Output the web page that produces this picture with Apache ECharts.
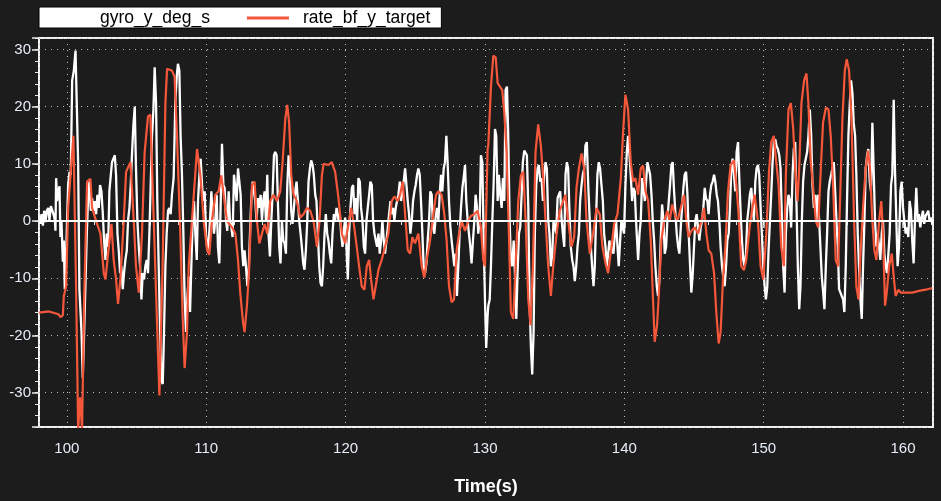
<!DOCTYPE html>
<html><head><meta charset="utf-8">
<script src="https://cdn.jsdelivr.net/npm/echarts@6/dist/echarts.min.js"></script>
<style>html,body{margin:0;padding:0;background:#1c1c1c;}#c{width:941px;height:501px;}</style>
</head><body><div id="c"></div>
<script>
const seriesNames = ['gyro_y_deg_s', 'rate_bf_y_target'];
const xTitle = 'Time(s)';
const xRange = [98, 162.15];
const yRange = [-36, 32];

const gyro_y_deg_s = [
[98.00,0.9],[98.09,-0.5],[98.18,1.2],[98.28,-0.8],[98.37,1.8],[98.47,-0.2],[98.56,1.8],[98.66,2.3],[98.75,0.1],[98.85,2.6],[98.95,2.9],[99.04,1.2],[99.14,0.1],[99.18,-1.7],[99.23,7.5],[99.30,3.5],[99.38,5.2],[99.47,6.1],[99.54,-2.8],[99.61,0.1],[99.71,-7.1],[99.78,-3.4],[99.85,-11.9],[99.90,-10.2],[100.00,-1.1],[100.09,6.3],[100.19,8.6],[100.28,8.1],[100.38,24.6],[100.50,26.3],[100.62,29.8],[100.71,20.6],[100.81,9.8],[100.90,-11.9],[101.05,-19.4],[101.14,-27.4],[101.24,-19.4],[101.33,-11.4],[101.43,-2.2],[101.53,4.6],[101.62,6.9],[101.72,1.8],[101.81,4.0],[101.91,1.8],[102.00,3.5],[102.10,1.2],[102.19,4.6],[102.29,2.3],[102.38,6.3],[102.48,5.2],[102.58,1.2],[102.67,-3.4],[102.77,-6.8],[102.86,-2.2],[102.96,-4.5],[103.05,5.2],[103.15,8.0],[103.24,10.3],[103.34,10.9],[103.44,11.5],[103.53,8.0],[103.63,-2.2],[103.72,-5.1],[103.82,-9.1],[103.91,-7.9],[104.01,-11.9],[104.10,-9.1],[104.20,-6.8],[104.30,-5.1],[104.39,0.1],[104.49,2.3],[104.58,6.3],[104.68,12.0],[104.77,16.6],[104.87,20.0],[104.96,9.2],[105.06,0.1],[105.16,-4.5],[105.25,-7.9],[105.35,-13.7],[105.44,-9.1],[105.54,-10.2],[105.63,-7.9],[105.73,-6.8],[105.82,-9.1],[105.92,-2.2],[106.01,5.8],[106.11,14.9],[106.21,19.5],[106.30,26.9],[106.40,20.6],[106.49,3.5],[106.59,-7.9],[106.68,-18.2],[106.78,-27.9],[106.88,-28.5],[106.97,-19.4],[107.07,-7.9],[107.16,-2.2],[107.26,1.8],[107.35,2.3],[107.45,1.2],[107.54,4.6],[107.66,7.5],[107.78,20.6],[107.88,25.2],[107.97,27.5],[108.07,26.3],[108.16,14.9],[108.26,8.0],[108.36,-2.2],[108.45,-13.7],[108.55,-19.4],[108.64,-13.7],
[108.74,-9.7],[108.84,-15.9],[108.93,-7.9],[109.03,0.1],[109.12,3.5],[109.22,-2.2],[109.32,-6.8],[109.41,3.5],[109.51,8.1],[109.60,10.9],[109.70,6.3],[109.79,3.5],[109.89,5.2],[109.98,-2.2],[110.08,-5.1],[110.18,-3.4],[110.27,0.1],[110.37,5.2],[110.46,0.6],[110.56,-2.2],[110.65,0.1],[110.75,4.6],[110.84,-4.5],[110.94,-7.4],[111.03,2.3],[111.13,13.5],[111.23,6.3],[111.32,5.8],[111.42,0.1],[111.51,-1.7],[111.61,5.2],[111.70,0.1],[111.80,-1.1],[111.89,-2.8],[111.99,8.1],[112.09,5.8],[112.18,3.5],[112.28,9.2],[112.37,9.5],[112.47,4.6],[112.56,-4.5],[112.66,-7.9],[112.75,-5.1],[112.85,-7.9],[112.95,-11.4],[113.04,-9.1],[113.14,-2.2],[113.23,3.5],[113.33,6.9],[113.42,5.2],[113.52,3.5],[113.61,0.1],[113.71,4.0],[113.81,2.3],[113.90,4.6],[114.00,0.1],[114.09,3.5],[114.19,5.2],[114.28,0.1],[114.38,8.1],[114.47,-2.2],[114.57,-6.2],[114.67,0.1],[114.76,4.6],[114.86,11.5],[114.95,12.1],[115.05,11.5],[115.14,3.5],[115.24,-4.5],[115.33,-7.4],[115.43,0.1],[115.53,-3.4],[115.62,-3.9],[115.72,-5.7],[115.81,5.8],[115.91,11.5],[116.00,9.2],[116.10,1.8],[116.19,-0.5],[116.29,2.3],[116.39,5.2],[116.48,6.9],[116.58,3.5],[116.67,0.1],[116.77,-2.2],[116.86,-4.5],[116.96,-7.4],[117.05,-8.5],[117.15,-5.1],[117.25,0.1],[117.34,6.9],[117.44,9.2],[117.53,10.6],[117.63,9.8],[117.72,8.1],[117.82,4.6],[117.91,3.5],[118.01,-2.2],[118.11,-7.9],[118.20,-10.8],[118.30,-11.4],[118.39,-7.9],[118.49,-2.2],[118.58,1.2],[118.68,-2.2],[118.77,-3.4],[118.87,-5.7],[118.97,-7.4],[119.06,-2.2],[119.16,1.2],[119.25,0.1],[119.35,2.3],[119.44,1.2],
[119.49,0.1],[119.59,1.2],[119.68,-2.2],[119.78,-4.5],[119.87,-1.7],[119.97,0.6],[120.06,-4.5],[120.16,-10.2],[120.25,-2.2],[120.35,2.3],[120.45,5.8],[120.54,6.3],[120.64,1.2],[120.73,4.0],[120.83,0.1],[120.92,7.5],[121.02,6.9],[121.11,2.3],[121.21,0.1],[121.31,-4.5],[121.40,-5.7],[121.50,0.1],[121.59,2.3],[121.69,4.6],[121.78,6.9],[121.88,6.3],[121.97,0.1],[122.07,-2.2],[122.17,-3.4],[122.26,-4.5],[122.36,-2.2],[122.45,-5.7],[122.55,-3.4],[122.64,0.1],[122.74,-3.4],[122.83,-5.7],[122.93,-3.4],[123.03,-1.1],[123.12,1.2],[123.22,3.5],[123.31,1.2],[123.41,2.3],[123.50,0.1],[123.60,2.3],[123.69,3.5],[123.79,4.6],[123.89,6.9],[123.98,3.5],[124.08,5.2],[124.17,6.9],[124.27,9.2],[124.36,9.5],[124.46,3.5],[124.55,1.2],[124.65,-2.2],[124.75,0.1],[124.84,3.5],[124.94,5.2],[125.03,6.3],[125.13,8.1],[125.22,9.2],[125.32,8.1],[125.41,3.5],[125.51,-2.2],[125.60,-7.9],[125.70,-9.1],[125.80,-7.4],[125.89,-3.4],[125.99,0.1],[126.08,5.2],[126.18,4.6],[126.27,-1.1],[126.37,-2.2],[126.46,0.6],[126.56,2.3],[126.66,0.1],[126.75,4.6],[126.85,8.1],[126.94,5.2],[127.04,9.2],[127.13,10.3],[127.23,14.9],[127.32,10.3],[127.42,3.5],[127.52,-1.1],[127.61,-3.4],[127.71,-5.7],[127.80,-7.9],[127.90,-5.7],[127.99,-13.1],[128.09,-7.9],[128.18,-2.2],[128.28,2.3],[128.38,5.8],[128.47,7.5],[128.57,9.8],[128.66,3.5],[128.76,0.1],[128.85,-2.2],[128.95,-4.5],[129.04,-7.4],[129.14,-3.4],[129.24,0.1],[129.33,4.6],[129.43,2.3],[129.52,-2.2],[129.62,0.1],[129.71,11.5],[129.81,10.3],[129.90,-2.2],[130.00,-13.7],[130.09,-22.2],[130.19,-16.5],
[130.24,-14.8],[130.34,-13.7],[130.43,-7.9],[130.53,0.1],[130.62,6.3],[130.72,16.1],[130.81,14.9],[130.91,3.5],[131.00,8.1],[131.10,4.6],[131.20,2.3],[131.29,7.5],[131.39,3.5],[131.48,22.9],[131.58,23.5],[131.67,14.9],[131.77,0.1],[131.86,-6.8],[131.96,-7.9],[132.06,-3.4],[132.15,-9.1],[132.25,-17.1],[132.34,-9.1],[132.44,-2.2],[132.53,-1.1],[132.63,4.6],[132.72,10.3],[132.82,12.3],[132.92,12.1],[133.01,11.5],[133.11,2.3],[133.20,-13.7],[133.30,-22.2],[133.39,-26.8],[133.49,-19.4],[133.58,-2.2],[133.68,6.3],[133.78,9.2],[133.87,9.8],[133.97,6.9],[134.06,7.5],[134.16,3.5],[134.25,8.1],[134.35,10.3],[134.44,9.2],[134.54,0.1],[134.63,-2.2],[134.73,-7.9],[134.83,-5.7],[134.92,0.1],[135.02,-1.1],[135.11,-2.2],[135.21,4.0],[135.30,4.6],[135.40,5.2],[135.49,0.6],[135.59,-2.2],[135.69,-4.5],[135.78,8.1],[135.88,10.3],[135.97,9.2],[136.07,1.2],[136.16,-4.5],[136.26,-6.8],[136.35,-7.9],[136.45,-10.5],[136.55,-7.9],[136.64,-4.5],[136.74,-2.2],[136.83,3.5],[136.93,6.3],[137.02,8.1],[137.12,9.2],[137.21,13.2],[137.31,13.8],[137.41,6.3],[137.50,1.2],[137.60,-4.5],[137.69,-7.9],[137.79,-11.4],[137.88,-7.9],[137.98,1.2],[138.07,8.1],[138.17,10.3],[138.26,9.2],[138.36,6.3],[138.46,3.5],[138.55,-2.2],[138.65,-4.5],[138.74,-7.9],[138.84,-5.7],[138.93,-3.4],[139.03,-5.1],[139.12,-4.5],[139.22,-5.7],[139.32,-2.2],[139.41,0.1],[139.51,-4.5],[139.60,-7.9],[139.70,-3.4],[139.79,0.1],[139.89,-1.1],[139.98,-2.2],[140.08,6.3],[140.18,12.1],[140.27,14.9],[140.37,11.5],[140.46,8.1],[140.56,3.5],[140.65,5.8],[140.75,5.2],[140.84,0.1],[140.94,-4.5],
[140.99,-6.8],[141.09,-2.2],[141.18,0.1],[141.28,7.5],[141.37,5.8],[141.47,3.5],[141.56,6.9],[141.66,10.3],[141.75,10.6],[141.85,8.1],[141.95,4.6],[142.04,0.1],[142.14,-3.4],[142.23,-7.9],[142.33,-11.4],[142.42,-13.1],[142.52,-10.2],[142.61,-3.4],[142.71,2.9],[142.81,0.1],[142.90,-5.7],[143.00,-4.5],[143.09,0.1],[143.19,3.5],[143.28,6.3],[143.38,9.8],[143.47,10.3],[143.57,5.2],[143.67,1.2],[143.76,-2.2],[143.86,-4.5],[143.95,-5.7],[144.05,-1.1],[144.14,2.3],[144.24,5.8],[144.33,8.1],[144.43,8.6],[144.53,4.6],[144.62,-2.2],[144.72,-7.9],[144.81,-12.5],[144.91,-9.1],[145.00,-4.5],[145.10,0.1],[145.19,1.2],[145.29,-1.1],[145.38,-3.4],[145.48,-1.1],[145.58,0.1],[145.67,2.3],[145.77,5.8],[145.86,4.0],[145.96,3.5],[146.05,1.2],[146.15,4.6],[146.24,6.3],[146.34,6.9],[146.44,8.1],[146.53,6.9],[146.63,4.6],[146.72,3.5],[146.82,0.1],[146.91,-4.5],[147.01,-7.9],[147.10,-9.7],[147.20,-11.4],[147.30,-7.9],[147.39,-3.4],[147.49,-2.2],[147.58,2.3],[147.68,9.2],[147.77,10.9],[147.87,8.1],[147.96,5.2],[148.06,12.1],[148.16,13.8],[148.25,7.5],[148.35,1.2],[148.44,-3.4],[148.54,-6.8],[148.63,-7.9],[148.73,-5.7],[148.82,0.1],[148.92,2.3],[149.01,4.6],[149.11,5.8],[149.21,2.3],[149.30,0.1],[149.40,6.9],[149.49,9.2],[149.59,9.8],[149.68,8.1],[149.78,2.3],[149.87,-2.2],[149.97,-7.9],[150.07,-11.4],[150.16,-13.7],[150.26,-11.4],[150.35,-5.1],[150.45,0.1],[150.54,4.6],[150.64,10.3],[150.73,13.8],[150.83,14.3],[150.93,13.1],[151.02,12.6],[151.12,11.5],[151.21,9.2],[151.31,0.1],[151.40,-7.9],[151.50,-12.5],
[151.59,-2.2],[151.69,2.3],[151.78,4.6],[151.88,3.5],[151.97,-1.1],[152.07,8.1],[152.16,12.6],[152.26,13.8],[152.35,3.5],[152.45,-7.9],[152.55,-15.4],[152.64,-11.4],[152.74,0.1],[152.83,6.9],[152.93,9.8],[153.02,10.9],[153.12,12.1],[153.21,14.9],[153.31,19.5],[153.41,14.9],[153.50,6.3],[153.60,2.3],[153.69,4.6],[153.79,0.1],[153.88,4.6],[153.98,0.1],[154.07,-4.5],[154.17,-9.7],[154.27,-12.5],[154.36,-15.4],[154.46,-7.9],[154.55,-2.2],[154.65,5.2],[154.74,6.9],[154.84,8.1],[154.93,9.2],[155.03,10.3],[155.13,5.2],[155.22,0.1],[155.32,-4.5],[155.41,-11.9],[155.51,-12.5],[155.60,-13.1],[155.70,-13.7],[155.79,-15.9],[155.89,-7.9],[155.98,3.5],[156.08,14.9],[156.18,20.6],[156.27,24.6],[156.37,22.3],[156.46,17.2],[156.56,14.9],[156.65,8.1],[156.75,-2.2],[156.84,-7.9],[156.94,-13.7],[157.04,-17.1],[157.13,-7.9],[157.23,0.1],[157.32,9.2],[157.42,11.5],[157.51,12.6],[157.61,6.9],[157.70,5.2],[157.80,17.2],[157.90,8.1],[157.99,0.1],[158.09,-4.5],[158.18,-2.2],[158.28,-4.5],[158.37,-6.8],[158.47,-2.2],[158.56,0.1],[158.66,-5.7],[158.75,-7.9],[158.85,-9.1],[158.95,-5.7],[159.04,-2.2],[159.14,6.3],[159.23,8.1],[159.33,21.2],[159.42,9.2],[159.52,0.1],[159.61,-7.9],[159.71,-4.5],[159.81,5.2],[159.90,6.9],[160.00,2.3],[160.09,0.1],[160.19,-2.2],[160.28,-1.1],[160.38,-2.8],[160.47,3.5],[160.57,1.8],[160.66,-3.4],[160.76,-7.4],[160.86,0.6],[160.95,5.8],[161.05,0.1],[161.14,1.2],[161.24,-1.1],[161.33,0.6],[161.43,1.8],[161.52,-0.5],[161.62,0.9],[161.71,0.6],[161.81,1.8],[161.90,0.1],[162.00,0.6],[162.10,-0.5]
];

const rate_bf_y_target = [
[98.00,-16.0],[98.71,-15.8],[99.40,-16.3],[99.54,-16.8],[99.71,-16.5],[99.78,-13.1],[99.95,-11.4],[100.09,2.3],[100.19,2.6],[100.47,14.9],[100.66,-11.4],[100.81,-36.5],[100.95,-30.8],[101.09,-36.5],[101.24,-13.7],[101.45,6.9],[101.69,7.4],[101.81,2.3],[102.10,0.0],[102.41,-2.2],[102.65,-9.1],[102.77,-10.2],[103.01,-4.5],[103.20,-0.5],[103.36,-6.8],[103.53,-10.2],[103.67,-14.5],[103.84,-10.2],[104.08,0.0],[104.25,8.6],[104.56,10.3],[104.80,0.0],[104.96,-7.9],[105.16,-12.5],[105.39,-2.2],[105.58,12.0],[105.82,18.3],[105.99,18.6],[106.64,-30.5],[106.87,-7.9],[107.07,20.6],[107.19,26.6],[107.54,26.3],[107.73,25.2],[107.90,14.9],[108.14,-2.2],[108.31,-17.0],[108.45,-25.7],[108.62,-19.4],[108.74,-8.0],
[109.34,12.6],[109.58,8.0],[109.82,0.0],[110.06,-5.1],[110.22,-5.9],[110.41,0.0],[110.65,4.6],[110.89,5.2],[111.08,8.0],[111.25,4.6],[111.49,0.0],[111.85,-1.1],[112.09,-2.2],[112.28,-6.8],[112.44,-12.5],[112.64,-17.7],[112.75,-19.4],[112.92,-14.8],[113.09,-7.9],[113.28,6.3],[113.47,6.9],[113.64,0.0],[113.81,-3.9],[114.00,-2.2],[114.19,-0.5],[114.38,-2.2],[114.59,3.5],[114.83,4.6],[115.07,3.5],[115.31,5.2],[115.48,10.3],[115.67,17.8],[115.81,20.3],[115.95,17.2],[116.10,8.0],[116.27,4.6],[116.50,3.5],[116.74,0.6],[116.98,1.2],[117.22,2.3],[117.46,1.8],[117.70,0.0],[117.94,-4.5],[118.13,0.0],[118.30,8.0],[118.42,10.0],[118.77,9.8],[119.01,10.3],[119.25,8.6],
[119.49,4.0],[119.73,-2.2],[119.97,-3.9],[120.21,-0.5],[120.40,2.3],[120.56,0.0],[120.80,-4.5],[120.97,-7.9],[121.16,-11.4],[121.35,-12.0],[121.52,-7.9],[121.69,-6.8],[121.83,-10.2],[122.00,-13.7],[122.16,-11.4],[122.36,-8.5],[122.59,-6.8],[122.83,-4.5],[123.07,-2.2],[123.31,3.5],[123.50,4.3],[123.74,3.5],[123.91,4.6],[124.10,6.9],[124.27,1.2],[124.46,-5.1],[124.63,-5.7],[124.79,-2.8],[124.98,-3.9],[125.22,-2.2],[125.46,-7.9],[125.65,-9.9],[125.82,-6.8],[126.06,-3.4],[126.30,1.2],[126.49,4.6],[126.66,5.2],[126.89,4.6],[127.08,1.2],[127.25,-3.4],[127.42,-11.4],[127.61,-14.2],[127.78,-13.7],[127.97,-5.1],[128.14,-2.2],[128.33,0.0],[128.57,-1.7],[128.80,0.0],[128.99,0.9],[129.23,1.2],[129.47,1.8],[129.71,-1.1],[129.88,-6.8],[130.00,-7.9],[130.19,12.6],
[130.24,13.2],[130.43,23.5],[130.60,28.9],[130.77,28.6],[130.91,24.1],[131.08,23.5],[131.24,22.9],[131.39,18.9],[131.55,12.1],[131.72,-2.2],[131.86,-15.9],[132.03,-17.1],[132.20,-7.9],[132.39,3.5],[132.58,8.0],[132.75,8.6],[132.91,0.6],[133.11,-13.7],[133.27,-18.2],[133.44,-7.9],[133.63,12.1],[133.82,16.9],[134.01,13.2],[134.18,7.5],[134.35,0.0],[134.54,-7.9],[134.73,-13.1],[134.90,-7.9],[135.14,-2.2],[135.37,1.8],[135.61,3.5],[135.78,4.6],[135.97,0.0],[136.21,-4.5],[136.40,-2.8],[136.57,5.8],[136.74,9.2],[136.93,11.8],[137.12,9.2],[137.29,0.0],[137.52,-5.7],[137.76,-2.2],[138.00,2.3],[138.24,1.2],[138.43,-4.5],[138.65,-7.4],[138.84,-9.1],[139.08,-4.5],[139.27,-0.5],[139.51,1.2],[139.75,7.5],[139.91,15.5],[140.08,22.1],[140.27,19.5],[140.46,10.3],[140.63,6.9],[140.80,7.5],
[140.99,4.6],[141.18,9.2],[141.35,9.7],[141.52,5.2],[141.71,3.5],[141.90,-3.4],[142.06,-13.7],[142.18,-21.1],[142.35,-18.2],[142.47,-13.1],[142.66,-3.4],[142.85,0.0],[143.09,1.8],[143.26,0.0],[143.43,2.9],[143.62,1.2],[143.81,0.0],[144.05,2.3],[144.29,4.6],[144.45,0.0],[144.62,-2.8],[144.81,-1.7],[145.05,-1.1],[145.29,-2.2],[145.53,0.0],[145.72,2.3],[145.89,-2.2],[146.05,-5.1],[146.24,-5.7],[146.44,-9.1],[146.60,-15.9],[146.77,-21.4],[146.91,-19.4],[147.08,-10.2],[147.25,-4.5],[147.44,5.2],[147.63,9.8],[147.87,10.6],[148.04,6.3],[148.20,1.2],[148.39,-7.9],[148.58,-8.6],[148.75,-6.8],[148.99,-1.1],[149.16,1.8],[149.35,4.6],[149.59,0.0],[149.78,-7.9],[149.97,-10.2],[150.19,-2.2],[150.38,8.6],[150.54,13.8],[150.73,14.9],[150.90,10.3],[151.07,6.3],[151.26,-4.5],[151.45,-7.9],
[151.59,8.0],[151.78,19.5],[151.95,20.6],[152.12,16.1],[152.26,9.2],[152.43,3.5],[152.55,9.2],[152.71,20.6],[152.90,24.6],[153.07,25.8],[153.21,20.6],[153.38,10.3],[153.55,5.8],[153.74,0.0],[153.91,-1.1],[154.10,9.2],[154.26,17.2],[154.46,19.8],[154.65,19.5],[154.81,14.9],[154.98,6.3],[155.17,-6.8],[155.34,-7.9],[155.48,3.5],[155.65,17.8],[155.82,26.3],[155.96,28.3],[156.13,26.3],[156.30,17.8],[156.49,0.0],[156.65,-11.4],[156.80,-13.7],[156.96,-5.1],[157.13,2.3],[157.32,9.2],[157.49,12.3],[157.63,9.2],[157.80,0.0],[157.94,-5.1],[158.09,-6.8],[158.28,0.0],[158.44,3.5],[158.56,-2.2],[158.71,-14.8],[158.83,-12.5],[159.00,-7.9],[159.19,-5.7],[159.35,-10.2],[159.47,-13.1],[159.66,-12.0],[159.83,-12.5],[160.19,-12.5],[160.67,-12.5],[161.14,-12.2],[161.62,-12.0],[162.10,-11.7]
];

const chart = echarts.init(document.getElementById('c'), null, {renderer: 'canvas'});
const font = "'Liberation Sans', Arial, sans-serif";
const labelColor = '#e6edf6';
const tickColor = '#e8e8e8';
const gridLine = {show: true, lineStyle: {color: '#bcbcbc', width: 1, type: [1, 5]}};
const majorFmt = v => (Math.abs(v % 10) < 1e-9 ? String(v) : '');

const option = {
  backgroundColor: '#1c1c1c',
  animation: false,
  legend: {
    data: seriesNames,
    left: 39, top: 7,
    backgroundColor: '#ffffff', borderColor: '#000000', borderWidth: 1,
    padding: [2, 11, 1, 5],
    icon: 'rect', itemWidth: 42, itemHeight: 3, itemGap: 37,
    textStyle: {color: '#000000', fontSize: 17.5, fontFamily: font, padding: [0, 0, 0, 9]}
  },
  grid: {left: 39, top: 38, right: 8, bottom: 65, show: true, borderColor: '#f2f2f2', borderWidth: 2, backgroundColor: 'transparent'},
  xAxis: [
    {type: 'value', min: xRange[0], max: xRange[1], interval: 2, position: 'bottom',
     axisLine: {show: false}, axisTick: {show: true, length: 4, lineStyle: {color: tickColor, width: 1}},
     axisLabel: {show: false}, splitLine: {show: false}},
    {type: 'value', min: xRange[0], max: xRange[1], splitNumber: 6, position: 'bottom',
     axisLine: {show: false}, axisTick: {show: true, length: 7, lineStyle: {color: tickColor, width: 1.5}},
     axisLabel: {formatter: majorFmt, color: labelColor, fontSize: 15, fontFamily: font, margin: 14},
     splitLine: gridLine,
     name: xTitle, nameLocation: 'middle', nameGap: 51,
     nameTextStyle: {color: '#ffffff', fontSize: 18, fontWeight: 'bold', fontFamily: font}}
  ],
  yAxis: [
    {type: 'value', min: yRange[0], max: yRange[1], interval: 2, position: 'left',
     axisLine: {show: false}, axisTick: {show: true, length: 4, lineStyle: {color: tickColor, width: 1}},
     axisLabel: {show: false}, splitLine: {show: false}},
    {type: 'value', min: yRange[0], max: yRange[1], splitNumber: 6, position: 'left',
     axisLine: {show: false}, axisTick: {show: true, length: 7, lineStyle: {color: tickColor, width: 1.5}},
     axisLabel: {formatter: majorFmt, color: labelColor, fontSize: 15, fontFamily: font, margin: 8},
     splitLine: gridLine}
  ],
  series: [
    {name: seriesNames[0], type: 'line', xAxisIndex: 0, yAxisIndex: 0, data: gyro_y_deg_s,
     showSymbol: false, symbol: 'none', color: '#ffffff', lineStyle: {color: '#ffffff', width: 2.3}, z: 3},
    {name: seriesNames[1], type: 'line', xAxisIndex: 0, yAxisIndex: 0, data: rate_bf_y_target,
     showSymbol: false, symbol: 'none', color: '#f4573a', lineStyle: {color: '#f4573a', width: 2.2}, z: 4,
     markLine: {silent: true, symbol: ['none', 'none'], label: {show: false},
       lineStyle: {color: '#ffffff', width: 2, type: 'solid'}, data: [{yAxis: 0}]}}
  ]
};
chart.setOption(option);
</script>
</body></html>
